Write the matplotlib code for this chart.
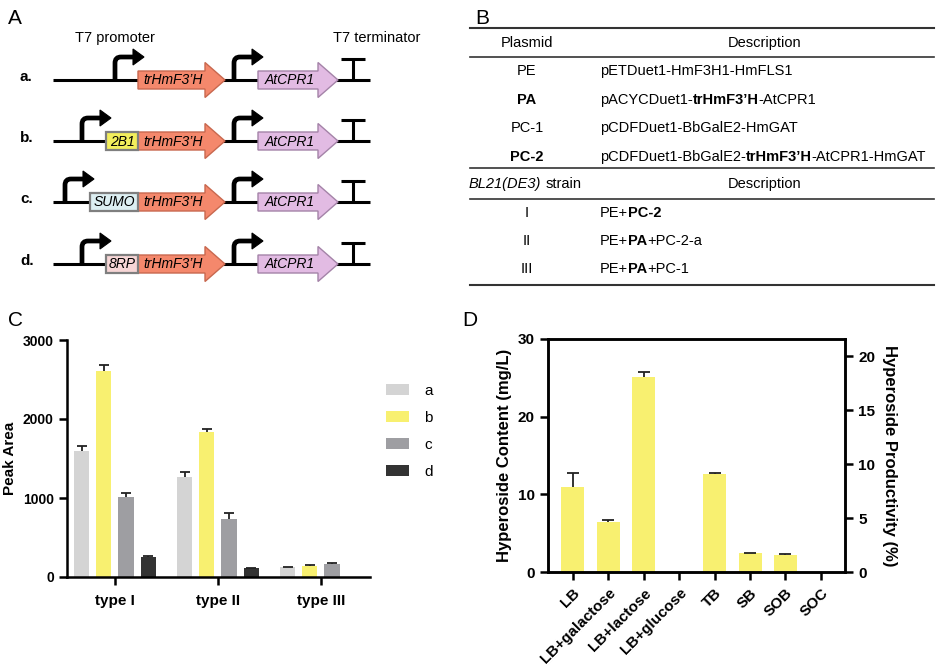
"""Four-panel figure: construct map (A), plasmid/strain table (B), peak area bars (C),
hyperoside titre by medium (D)."""
import numpy as np
import matplotlib
matplotlib.use("Agg")
import matplotlib.pyplot as plt
from matplotlib.patches import Polygon, Rectangle, PathPatch
from matplotlib.path import Path

plt.rcParams["font.family"] = ["Liberation Sans", "DejaVu Sans"]

# ---- data -------------------------------------------------------------------
GROUPS = ["type I", "type II", "type III"]
SERIES = ["a", "b", "c", "d"]
PEAK_A = [1600, 1265, 123]
PEAK_B = [2610, 1835, 143]
PEAK_C = [1017, 730, 165]
PEAK_D = [250, 110, np.nan]
ERR_A = [55, 68, 8]
ERR_B = [78, 38, 9]
ERR_C = [43, 76, 15]
ERR_D = [12, 8, np.nan]

MEDIA = ["LB", "LB+galactose", "LB+lactose", "LB+glucose", "TB", "SB", "SOB", "SOC"]
CONTENT = [10.9, 6.4, 25.1, 0, 12.6, 2.4, 2.2, 0]
CONTENT_ERR = [1.8, 0.3, 0.6, 0, 0.15, 0.06, 0.08, 0]

ROW_LABELS = ["a.", "b.", "c.", "d."]
ROW_TAGS = [None, "2B1", "SUMO", "8RP"]

PLASMIDS = [[("PE", "normal", "normal")], [("PA", "bold", "normal")],
            [("PC-1", "normal", "normal")], [("PC-2", "bold", "normal")]]
PLASMID_DESC = [
    [("pETDuet1-HmF3H1-HmFLS1", "normal", "normal")],
    [("pACYCDuet1-", "normal", "normal"), ("trHmF3’H", "bold", "normal"), ("-AtCPR1", "normal", "normal")],
    [("pCDFDuet1-BbGalE2-HmGAT", "normal", "normal")],
    [("pCDFDuet1-BbGalE2-", "normal", "normal"), ("trHmF3’H", "bold", "normal"),
     ("-AtCPR1-HmGAT", "normal", "normal")],
]
STRAINS = [[("I", "normal", "normal")], [("II", "normal", "normal")], [("III", "normal", "normal")]]
STRAIN_DESC = [
    [("PE+", "normal", "normal"), ("PC-2", "bold", "normal")],
    [("PE+", "normal", "normal"), ("PA", "bold", "normal"), ("+PC-2-a", "normal", "normal")],
    [("PE+", "normal", "normal"), ("PA", "bold", "normal"), ("+PC-1", "normal", "normal")],
]

# ---- style ------------------------------------------------------------------
COL_SER = ["#D4D4D4", "#F8F070", "#9E9EA2", "#333333"]
YEL = "#F8F070"
GENE1 = ("#F4886C", "#C8684F")
GENE2 = ("#E2BBE3", "#A483A8")
TAG_COL = {"2B1": "#F2EE5C", "SUMO": "#DDEFF2", "8RP": "#F7D6D6"}
LINE = "#333333"
SPW = 1.8
TBL = 10.5

fig = plt.figure(figsize=(9.36, 6.67), dpi=100)
ov = fig.add_axes([0, 0, 1, 1], zorder=5)
ov.set_xlim(0, 936); ov.set_ylim(667, 0); ov.axis("off"); ov.patch.set_visible(False)


def promoter(x, base):
    verts = [(x, base), (x, base - 17), (x, base - 23), (x + 6, base - 23), (x + 20, base - 23)]
    codes = [Path.MOVETO, Path.LINETO, Path.CURVE3, Path.CURVE3, Path.LINETO]
    ov.add_patch(PathPatch(Path(verts, codes), fc="none", ec="black", lw=3.4, capstyle="butt"))
    ov.add_patch(Polygon([(x + 18, base - 31), (x + 29, base - 23), (x + 18, base - 15)], closed=True,
                         fc="black", ec="black", lw=0.8))


def gene(x0, xh, x1, base, label, cols):
    pts = [(x0, base - 9), (xh, base - 9), (xh, base - 17.5), (x1, base), (xh, base + 17.5),
           (xh, base + 9), (x0, base + 9)]
    ov.add_patch(Polygon(pts, closed=True, fc=cols[0], ec=cols[1], lw=1.0, zorder=3))
    ov.text((x0 + xh) / 2 + 2, base + 0.5, label, fontsize=10, style="italic", ha="center",
            va="center", zorder=4)


def panel_a():
    ov.text(8, 19, "A", fontsize=15, va="center")
    ov.text(115, 38, "T7 promoter", fontsize=10.5, ha="center", va="center")
    ov.text(377, 38, "T7 terminator", fontsize=10.5, ha="center", va="center")
    bases = [80, 141, 202, 264]
    prom_x = [115, 82, 65, 82]
    tag_x0 = [None, 106, 90, 106]
    for base, lab, tag, px, tx in zip(bases, ROW_LABELS, ROW_TAGS, prom_x, tag_x0):
        ov.text(20, base - 3, lab, fontsize=11, fontweight="bold", va="center")
        ov.plot([53, 370], [base, base], color="black", lw=2.2, solid_capstyle="butt", zorder=2)
        promoter(px, base)
        if tag:
            ov.add_patch(Rectangle((tx, base - 9), 138 - tx, 18, fc=TAG_COL[tag], ec="#7F7F7F",
                                   lw=1.6, zorder=4))
            ov.text((tx + 138) / 2, base + 0.5, tag, fontsize=10, style="italic", ha="center",
                    va="center", zorder=5)
        gene(138, 205, 225, base, "trHmF3’H", GENE1)
        promoter(234, base)
        gene(258, 318, 338, base, "AtCPR1", GENE2)
        ov.plot([353, 353], [base, base - 21], color="black", lw=2.2, solid_capstyle="butt")
        ov.plot([341, 365], [base - 21, base - 21], color="black", lw=2.2, solid_capstyle="butt")


def rich(x, y, parts, ha="left", size=TBL):
    r = fig.canvas.get_renderer()
    ts = [ov.text(0, y, s, fontsize=size, fontweight=w, style=st, va="center") for s, w, st in parts]
    ws = [t.get_window_extent(r).width for t in ts]
    gap = [0.28 * size * 100 / 72 if s.startswith(" ") else 0 for s, _, _ in parts]
    total = sum(ws) + sum(gap)
    cx = x - total / 2 if ha == "center" else x
    for t, w, g in zip(ts, ws, gap):
        cx += g
        t.set_x(cx); t.set_text(t.get_text().strip())
        cx += w


def panel_b():
    ov.text(475, 19, "B", fontsize=15, va="center")
    x0, x1, xc, xd = 470, 934, 527, 600
    ov.plot([x0, x1], [28, 28], color=LINE, lw=1.5)
    rich(xc, 43, [("Plasmid", "normal", "normal")], ha="center")
    rich(765, 43, [("Description", "normal", "normal")], ha="center")
    ov.plot([x0, x1], [57, 57], color=LINE, lw=1.2)
    for y, p, d in zip([71, 100, 128, 157], PLASMIDS, PLASMID_DESC):
        rich(xc, y, p, ha="center"); rich(xd, y, d)
    ov.plot([x0, x1], [168, 168], color=LINE, lw=1.2)
    rich(xc, 184, [("BL21(DE3)", "normal", "italic"), (" strain", "normal", "normal")], ha="center")
    rich(765, 184, [("Description", "normal", "normal")], ha="center")
    ov.plot([x0, x1], [199, 199], color=LINE, lw=1.2)
    for y, s, d in zip([213, 241, 269], STRAINS, STRAIN_DESC):
        rich(xc, y, s, ha="center"); rich(xd, y, d)
    ov.plot([x0, x1], [285, 285], color=LINE, lw=1.5)


def style_ax(ax):
    for s in ax.spines.values():
        s.set_linewidth(SPW)
    ax.tick_params(width=SPW, length=6, direction="out", labelsize=10)
    for lab in ax.get_xticklabels() + ax.get_yticklabels():
        lab.set_fontweight("bold")


def up_err(ax, x, m, e, cap):
    """Prism-style error bar: stem and cap above the bar only."""
    ax.vlines(x, m, m + e, color="#222222", lw=1.3, zorder=3)
    ax.plot(x, m + e, ls="none", marker="_", ms=cap, mew=1.3, color="#222222", zorder=3)


def panel_c():
    ov.text(8, 320, "C", fontsize=15, va="center")
    ax = fig.add_axes([67 / 936, 90 / 667, 303 / 936, 237 / 667])
    x = np.arange(len(GROUPS))
    means = [PEAK_A, PEAK_B, PEAK_C, PEAK_D]
    errs = [ERR_A, ERR_B, ERR_C, ERR_D]
    step, w = 0.214, 0.146
    for i, (m, e) in enumerate(zip(means, errs)):
        xi = x + (i - 1.5) * step
        ax.bar(xi, m, width=w, color=COL_SER[i], label=SERIES[i], zorder=2)
        m = np.array(m, float); e = np.array(e, float)
        ok = ~np.isnan(m)
        up_err(ax, xi[ok], m[ok], e[ok], 7)
    ax.set_xlim(-0.466, 2.476); ax.set_ylim(0, 3000)
    ax.set_yticks([0, 1000, 2000, 3000]); ax.set_xticks(x); ax.set_xticklabels(GROUPS)
    ax.spines[["top", "right"]].set_visible(False)
    style_ax(ax)
    ax.tick_params(axis="x", labelsize=11, pad=6)
    ax.set_ylabel("Peak Area", fontsize=11, fontweight="bold", labelpad=4)
    ax.legend(loc="upper left", bbox_to_anchor=(372 / 936, 1 - 370 / 667), bbox_transform=fig.transFigure,
              frameon=False, fontsize=11, handlelength=1.5, handleheight=0.75, labelspacing=0.85,
              handletextpad=1.0)


def panel_d():
    ov.text(462, 320, "D", fontsize=15, va="center")
    ax = fig.add_axes([548 / 936, 95 / 667, 297 / 936, 233 / 667])
    x = np.arange(len(MEDIA))
    c = np.array(CONTENT, float); e = np.array(CONTENT_ERR, float)
    ax.bar(x, c, width=0.65, color=YEL, zorder=2)
    ok = c > 0
    up_err(ax, x[ok], c[ok], e[ok], 9)
    ax.set_xlim(-0.705, 7.68); ax.set_ylim(0, 30)
    ax.set_yticks([0, 10, 20, 30]); ax.set_xticks(x)
    ax.set_xticklabels(MEDIA, rotation=45, ha="right", rotation_mode="anchor")
    style_ax(ax)
    ax.tick_params(labelsize=11)
    ax.tick_params(axis="x", pad=4)
    ax.set_ylabel("Hyperoside Content (mg/L)", fontsize=12, fontweight="bold", labelpad=4)
    tw = ax.twinx()
    tw.set_ylim(0, 21.6); tw.set_yticks([0, 5, 10, 15, 20])
    style_ax(tw)
    tw.tick_params(labelsize=11)
    tw.set_ylabel("Hyperoside Productivity (%)", fontsize=12, fontweight="bold", rotation=270,
                  labelpad=16)


panel_a()
panel_b()
panel_c()
panel_d()
fig.savefig("out.png", dpi=100, facecolor="white")
